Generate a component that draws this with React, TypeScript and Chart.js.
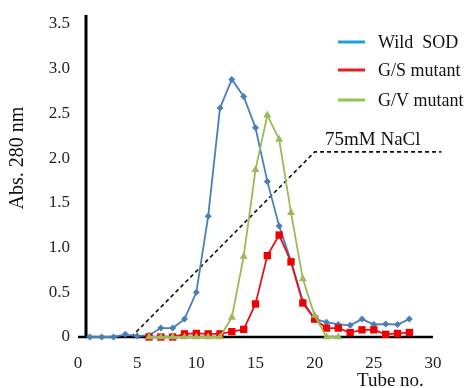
import React, { useEffect, useRef } from "react";
import { Chart, registerables } from "chart.js";

Chart.register(...registerables);

const tubes = [1,2,3,4,5,6,7,8,9,10,11,12,13,14,15,16,17,18,19,20,21,22,23,24,25,26,27,28];
const wildSOD = [0,0,0,0.03,0.01,0.02,0.10,0.10,0.20,0.50,1.35,2.56,2.88,2.69,2.34,1.74,1.24,0.85,0.40,0.20,0.165,0.14,0.13,0.20,0.14,0.145,0.14,0.20];
const gsMutant = [null,null,null,null,null,0,0,0,0.035,0.04,0.035,0.035,0.06,0.085,0.37,0.91,1.14,0.84,0.38,0.20,0.10,0.10,0.05,0.08,0.08,0.03,0.04,0.05];
const gvMutant = [null,null,null,null,null,0,0,0,0,0,0,0,0.22,0.90,1.87,2.48,2.21,1.39,0.65,0.24,0,0,null,null,null,null,null,null];
const naclX = [4.5, 20, 30.7];
const naclY = [0, 2.07, 2.07];
const yTicks = [0, 0.5, 1.0, 1.5, 2.0, 2.5, 3.0, 3.5];
const xTicks = [0, 5, 10, 15, 20, 25, 30];
const legendItems = [
  { label: "Wild  SOD", color: "#1fa0dc" },
  { label: "G/S mutant", color: "#e41e1e" },
  { label: "G/V mutant", color: "#92c353" },
];
const naclLabel = "75mM NaCl";
const xTitle = "Tube no.";
const yTitle = "Abs. 280 nm";

const FONT = "'Liberation Serif', 'DejaVu Serif', serif";

function pts(arr: (number | null)[]) {
  return tubes.map((t, i) => ({ x: t, y: arr[i] }));
}

export default function App() {
  const ref = useRef<HTMLCanvasElement | null>(null);
  useEffect(() => {
    document.body.style.margin = "0";
    const canvas = ref.current;
    if (!canvas) return;

    const overlay = {
      id: "overlay",
      beforeDatasetsDraw(chart: any) {
        const { ctx, chartArea } = chart;
        ctx.save();
        ctx.strokeStyle = "#000";
        ctx.lineWidth = 3;
        ctx.beginPath();
        ctx.moveTo(chartArea.left + 8, chartArea.top - 9);
        ctx.lineTo(chartArea.left + 8, chartArea.bottom);
        ctx.stroke();
        ctx.lineWidth = 2.5;
        ctx.beginPath();
        ctx.moveTo(chartArea.left, chartArea.bottom);
        ctx.lineTo(chartArea.right, chartArea.bottom);
        ctx.stroke();
        ctx.restore();
      },
      afterDraw(chart: any) {
        const { ctx } = chart;
        ctx.save();
        ctx.fillStyle = "#111";
        ctx.font = `18px ${FONT}`;
        ctx.textBaseline = "middle";
        ctx.textAlign = "left";
        const rows = [42, 70, 100];
        legendItems.forEach((it, i) => {
          ctx.strokeStyle = it.color;
          ctx.lineWidth = 3;
          ctx.beginPath();
          ctx.moveTo(338, rows[i]);
          ctx.lineTo(365, rows[i]);
          ctx.stroke();
          ctx.fillText(it.label, 378, rows[i] + 1);
        });
        ctx.textBaseline = "alphabetic";
        ctx.font = `19px ${FONT}`;
        ctx.fillText(naclLabel, 325, 145);
        ctx.fillText(xTitle, 357, 386);
        ctx.font = `20px ${FONT}`;
        ctx.translate(18, 158);
        ctx.rotate(-Math.PI / 2);
        ctx.textAlign = "center";
        ctx.textBaseline = "middle";
        ctx.fillText(yTitle, 0, 0);
        ctx.restore();
      },
    };

    const chart = new Chart(canvas, {
      type: "line",
      data: {
        datasets: [
          {
            label: "G/V mutant",
            data: pts(gvMutant),
            borderColor: "#9bbb59",
            backgroundColor: "#9bbb59",
            borderWidth: 1.8,
            pointStyle: "triangle",
            pointRadius: 4.6,
            pointBorderWidth: 0,
            clip: false,
          },
          {
            label: "G/S mutant",
            data: pts(gsMutant),
            borderColor: "#e3141c",
            backgroundColor: "#ee0000",
            borderWidth: 1.8,
            pointStyle: "rect",
            pointRadius: 5.2,
            pointBorderWidth: 0,
            clip: false,
          },
          {
            label: "Wild SOD",
            data: pts(wildSOD),
            borderColor: "#4a7ebb",
            backgroundColor: "#4a7ebb",
            borderWidth: 1.8,
            pointStyle: "rectRot",
            pointRadius: 3.5,
            pointBorderWidth: 0,
            clip: false,
          },
          {
            label: "NaCl",
            data: naclX.map((x, i) => ({ x, y: naclY[i] })),
            borderColor: "#111",
            borderWidth: 1.6,
            borderDash: [4, 3],
            pointRadius: 0,
            clip: false,
          },
        ],
      },
      options: {
        animation: false,
        responsive: false,
        maintainAspectRatio: false,
        layout: { padding: { top: 24, right: 39, left: 0, bottom: 0 } },
        plugins: { legend: { display: false }, tooltip: { enabled: false } },
        scales: {
          x: {
            type: "linear",
            min: 0,
            max: 30,
            afterFit(scale: any) { scale.height = 51; },
            afterBuildTicks(scale: any) { scale.ticks = xTicks.map((v) => ({ value: v })); },
            grid: { display: false, drawTicks: false },
            border: { display: false },
            ticks: { color: "#222", padding: 16, font: { family: FONT, size: 17 }, callback: (v: any) => String(v) },
          },
          y: {
            min: 0,
            max: 3.5,
            afterFit(scale: any) { scale.width = 78; },
            afterBuildTicks(scale: any) { scale.ticks = yTicks.map((v) => ({ value: v })); },
            grid: { display: false, drawTicks: false },
            border: { display: false },
            ticks: {
              color: "#222",
              padding: 8,
              font: { family: FONT, size: 17 },
              callback: (v: any) => (v === 0 ? "0" : Number(v).toFixed(1)),
            },
          },
        },
      },
      plugins: [overlay],
    } as any);
    return () => chart.destroy();
  }, []);
  return (
    <div style={{ position: "fixed", left: 0, top: 0, width: 472, height: 388, background: "#fff" }}>
      <canvas ref={ref} width={472} height={388} style={{ width: 472, height: 388 }} />
    </div>
  );
}
